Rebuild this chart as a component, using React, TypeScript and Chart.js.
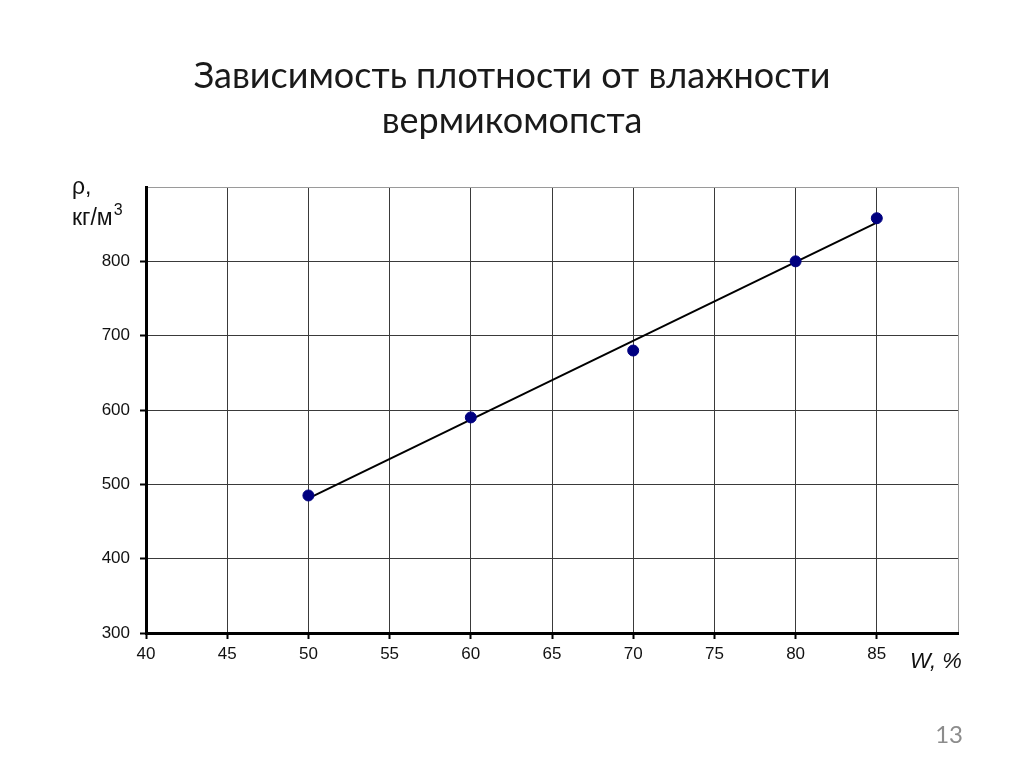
import React, { useEffect, useRef } from "react";
import { Chart, registerables } from "chart.js";

Chart.register(...registerables);

const titleLines = ["Зависимость плотности от влажности", "вермикомопста"];
const yAxisLabel = ["ρ,", "кг/м", "3"];
const xAxisLabel = "W, %";
const pageNumber = "13";

const moisture = [50, 60, 70, 80, 85];
const density = [485, 590, 680, 800, 858];

const trendX = [50, 85];
const trendY = [481, 852];

const xMin = 40;
const xMax = 90;
const xStep = 5;
const yMin = 300;
const yMax = 900;
const yStep = 100;

export default function App() {
  const ref = useRef<HTMLCanvasElement | null>(null);

  useEffect(() => {
    if (!ref.current) return;
    const textPlugin = {
      id: "texts",
      afterDraw(chart: any) {
        const ctx = chart.ctx;
        const area = chart.chartArea;
        ctx.save();
        ctx.fillStyle = "#1a1a1a";
        ctx.textAlign = "center";
        ctx.textBaseline = "middle";
        ctx.font = "36px Lato, 'Open Sans', sans-serif";
        ctx.fillText(titleLines[0], 512, 76);
        ctx.fillText(titleLines[1], 512, 121);

        ctx.font = "23px 'Liberation Sans', Arial, sans-serif";
        ctx.fillStyle = "#111";
        ctx.textAlign = "left";
        ctx.fillText(yAxisLabel[0], 72, area.top + 1);
        ctx.fillText(yAxisLabel[1], 72, area.top + 32);
        const w = ctx.measureText(yAxisLabel[1]).width;
        ctx.font = "16px 'Liberation Sans', Arial, sans-serif";
        ctx.fillText(yAxisLabel[2], 72 + w + 1, area.top + 24);

        ctx.font = "italic 22px 'Liberation Sans', Arial, sans-serif";
        ctx.fillText(xAxisLabel, 910, area.bottom + 29);

        ctx.font = "24px Lato, 'Open Sans', sans-serif";
        ctx.fillStyle = "#8c8c8c";
        ctx.textAlign = "right";
        ctx.fillText(pageNumber, 963, 735);
        ctx.restore();
      },
    };

    const chart = new Chart(ref.current, {
      type: "scatter",
      data: {
        datasets: [
          {
            label: "points",
            data: moisture.map((x, i) => ({ x, y: density[i] })),
            backgroundColor: "#000080",
            borderColor: "#000080",
            pointRadius: 5.5,
            pointHoverRadius: 5.5,
            order: 0,
          },
          {
            label: "trend",
            data: trendX.map((x, i) => ({ x, y: trendY[i] })),
            showLine: true,
            borderColor: "#000",
            borderWidth: 2,
            pointRadius: 0,
            order: 1,
          },
        ],
      },
      options: {
        animation: false,
        responsive: false,
        events: [],
        layout: { padding: { left: 0, right: 66, top: 187, bottom: 0 } },
        plugins: { legend: { display: false }, tooltip: { enabled: false }, title: { display: false } },
        scales: {
          x: {
            type: "linear",
            min: xMin,
            max: xMax,
            ticks: {
              stepSize: xStep,
              padding: 5,
              color: "#111",
              font: { family: "'Liberation Sans', Arial, sans-serif", size: 17 },
              callback: (v: any) => (v === xMax ? "" : String(v)),
            },
            grid: {
              color: (c: any) => (c.tick && c.tick.value === xMax ? "#9a9a9a" : "#3a3a3a"),
              lineWidth: 1,
              tickLength: 6,
              tickColor: (c: any) => (c.tick && c.tick.value === xMax ? "rgba(0,0,0,0)" : "#000"),
              tickWidth: 2,
            },
            border: { display: true, color: "#000", width: 3 },
            afterFit: (s: any) => {
              s.height = 134;
            },
          },
          y: {
            type: "linear",
            min: yMin,
            max: yMax,
            ticks: {
              stepSize: yStep,
              padding: 10,
              color: "#111",
              font: { family: "'Liberation Sans', Arial, sans-serif", size: 17 },
              callback: (v: any) => (v === yMax ? "" : String(v)),
            },
            grid: {
              color: (c: any) => (c.tick && c.tick.value === yMax ? "#9a9a9a" : "#3a3a3a"),
              lineWidth: 1,
              tickLength: 6,
              tickColor: (c: any) => (c.tick && c.tick.value === yMax ? "rgba(0,0,0,0)" : "#000"),
              tickWidth: 2,
            },
            border: { display: true, color: "#000", width: 3 },
            afterFit: (s: any) => {
              s.width = 146;
            },
          },
        },
      },
      plugins: [textPlugin],
    });
    return () => chart.destroy();
  }, []);

  return (
    <div style={{ position: "fixed", left: 0, top: 0, width: 1024, height: 767, background: "#fff" }}>
      <canvas ref={ref} width={1024} height={767} style={{ width: 1024, height: 767 }} />
    </div>
  );
}
